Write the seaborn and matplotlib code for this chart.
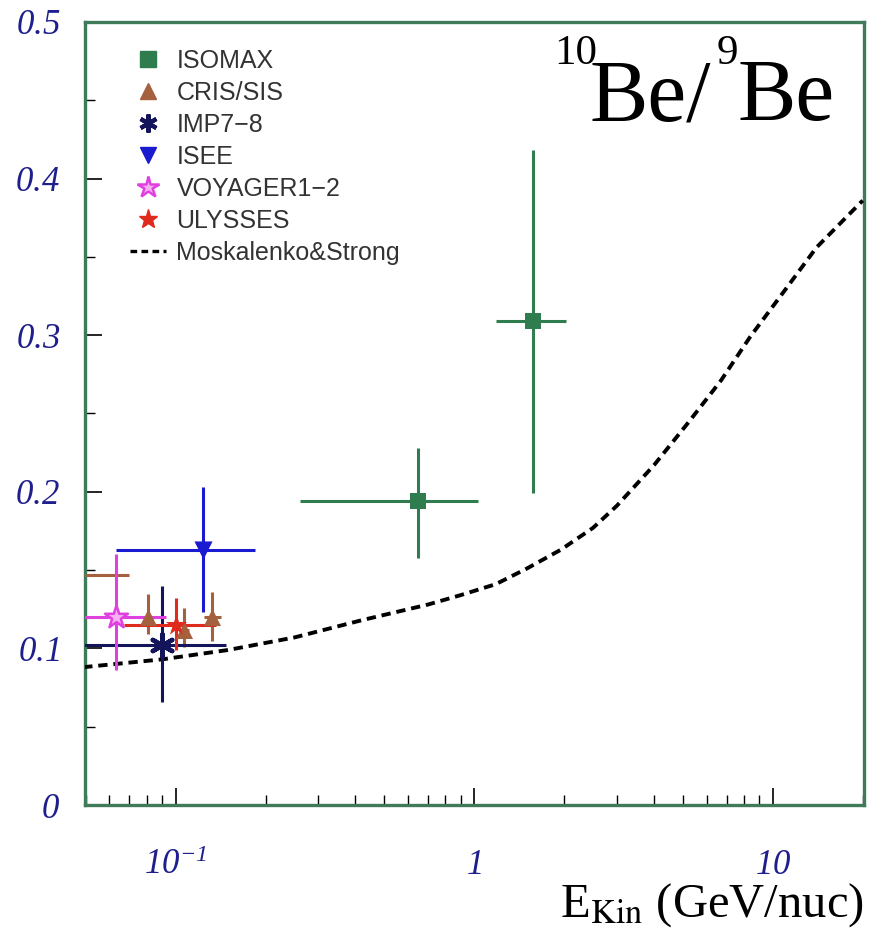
import numpy as np
import matplotlib
matplotlib.use("Agg")
import matplotlib.pyplot as plt
from matplotlib.lines import Line2D
from matplotlib.ticker import FixedLocator, FixedFormatter, LogLocator, MultipleLocator, NullFormatter
import seaborn as sns

# ---------------- data ----------------
# Moskalenko & Strong model curve
model_E = [0.049, 0.09, 0.15, 0.25, 0.42, 0.70, 0.90, 1.18, 1.5, 1.95, 2.5, 3.0, 4.0, 5.2, 6.7, 8.4, 11.0, 14.0, 20.0]
model_ratio = [0.088, 0.093, 0.099, 0.107, 0.118, 0.128, 0.134, 0.141, 0.151, 0.163, 0.177, 0.191, 0.217, 0.244, 0.271, 0.299, 0.329, 0.356, 0.386]

# ISOMAX
isomax_E = [0.65, 1.57]
isomax_R = [0.194, 0.309]
isomax_Elo = [0.26, 1.18]
isomax_Ehi = [1.03, 2.03]
isomax_Rlo = [0.158, 0.199]
isomax_Rhi = [0.228, 0.418]

# CRIS/SIS
cris_E = [0.045, 0.081, 0.107, 0.132]
cris_R = [0.147, 0.120, 0.112, 0.120]
cris_Elo = [0.040, 0.077, 0.103, 0.124]
cris_Ehi = [0.070, 0.086, 0.111, 0.142]
cris_Rlo = [0.140, 0.109, 0.101, 0.105]
cris_Rhi = [0.154, 0.135, 0.126, 0.136]

# IMP7-8
imp_E = [0.0898]
imp_R = [0.102]
imp_Elo = [0.045]
imp_Ehi = [0.148]
imp_Rlo = [0.066]
imp_Rhi = [0.140]

# ISEE
isee_E = [0.123]
isee_R = [0.163]
isee_Elo = [0.063]
isee_Ehi = [0.184]
isee_Rlo = [0.123]
isee_Rhi = [0.203]

# VOYAGER 1-2
voy_E = [0.063]
voy_R = [0.120]
voy_Elo = [0.045]
voy_Ehi = [0.093]
voy_Rlo = [0.086]
voy_Rhi = [0.160]

# ULYSSES
uly_E = [0.1006]
uly_R = [0.115]
uly_Elo = [0.067]
uly_Ehi = [0.136]
uly_Rlo = [0.099]
uly_Rhi = [0.132]

series_names = ["ISOMAX", "CRIS/SIS", "IMP7\u22128", "ISEE", "VOYAGER1\u22122", "ULYSSES"]
model_name = "Moskalenko&Strong"

x_ticks = [0.1, 1, 10]
x_ticklabels = [r"$10^{-1}$", r"$1$", r"$10$"]
y_ticks = [0, 0.1, 0.2, 0.3, 0.4, 0.5]
y_ticklabels = [r"$0$", r"$0.1$", r"$0.2$", r"$0.3$", r"$0.4$", r"$0.5$"]

# title pieces: (text, is_superscript, gap to the piece on its right in px)
title_parts = [("10", True, 0), ("Be/", False, -7), ("9", True, 5), ("Be", False, 0)]

# ---------------- style ----------------
sns.set_style("white")
plt.rcParams["font.family"] = ["Liberation Serif", "DejaVu Sans"]
# italic Times-like digits for the tick labels
plt.rcParams["mathtext.fontset"] = "custom"
plt.rcParams["mathtext.rm"] = "Liberation Serif:italic"
plt.rcParams["mathtext.it"] = "Liberation Serif:italic"
plt.rcParams["mathtext.bf"] = "Liberation Serif:bold"

frame_col = "#3f7b5b"
navy = "#1e1e8c"
W, H = 881, 938

fig = plt.figure(figsize=(W / 100, H / 100), dpi=100)
ax = fig.add_axes([85 / W, 1 - 805 / H, 779 / W, 783 / H])
ax.set_facecolor("white")

ax.set_xscale("log")
ax.set_xlim(0.0497, 20.2)
ax.set_ylim(0, 0.5)

# model curve
sns.lineplot(x=model_E, y=model_ratio, color="black", linewidth=2.8,
             linestyle=(0, (2.4, 1.5)), ax=ax, legend=False, zorder=3)

series = [
    (isomax_E, isomax_R, isomax_Elo, isomax_Ehi, isomax_Rlo, isomax_Rhi, "#2f7d4e", "s", 130, None, 0),
    (cris_E, cris_R, cris_Elo, cris_Ehi, cris_Rlo, cris_Rhi, "#a5603e", "^", 150, None, 0),
    (imp_E, imp_R, imp_Elo, imp_Ehi, imp_Rlo, imp_Rhi, "#14145a", (6, 2, 0), 260, None, 3.2),
    (isee_E, isee_R, isee_Elo, isee_Ehi, isee_Rlo, isee_Rhi, "#1a1ad0", "v", 170, None, 0),
    (voy_E, voy_R, voy_Elo, voy_Ehi, voy_Rlo, voy_Rhi, "#e040e0", "*", 300, "#f6b0f0", 1.8),
    (uly_E, uly_R, uly_Elo, uly_Ehi, uly_Rlo, uly_Rhi, "#e02a1e", "*", 260, None, 0),
]

for (E, R, Elo, Ehi, Rlo, Rhi, col, mk, s, fc, lw) in series:
    E = np.array(E); R = np.array(R)
    xerr = [E - np.array(Elo), np.array(Ehi) - E]
    yerr = [R - np.array(Rlo), np.array(Rhi) - R]
    ax.errorbar(E, R, xerr=xerr, yerr=yerr, fmt="none", ecolor=col,
                elinewidth=2.2, capsize=0, zorder=4)
    if isinstance(mk, tuple):
        sns.scatterplot(x=E, y=R, marker=mk, s=s, color=col, linewidth=lw,
                        ax=ax, zorder=5, legend=False)
    elif fc is not None:
        sns.scatterplot(x=E, y=R, marker=mk, s=s, facecolor=fc, edgecolor=col,
                        linewidth=lw, ax=ax, zorder=5, legend=False)
    else:
        sns.scatterplot(x=E, y=R, marker=mk, s=s, color=col, edgecolor=col,
                        linewidth=0, ax=ax, zorder=5, legend=False)

# ---------------- axes ----------------
for sp in ax.spines.values():
    sp.set_color(frame_col)
    sp.set_linewidth(2.4)
    sp.set_visible(True)

ax.xaxis.set_major_locator(FixedLocator(x_ticks))
ax.xaxis.set_major_formatter(FixedFormatter(x_ticklabels))
ax.xaxis.set_minor_locator(LogLocator(base=10, subs=np.arange(2, 10)))
ax.xaxis.set_minor_formatter(NullFormatter())
ax.yaxis.set_major_locator(FixedLocator(y_ticks))
ax.yaxis.set_major_formatter(FixedFormatter(y_ticklabels))
ax.yaxis.set_minor_locator(MultipleLocator(0.05))

ax.tick_params(axis="both", which="both", direction="in", color="black",
               bottom=True, left=True, top=False, right=False)
ax.tick_params(axis="both", which="major", length=12, width=1.2)
ax.tick_params(axis="both", which="minor", length=7, width=1.0)
ax.tick_params(axis="y", which="major", pad=18, labelsize=25, labelcolor=navy)
ax.tick_params(axis="x", which="major", pad=50, labelsize=25, labelcolor=navy)
for lab in ax.get_xticklabels():
    lab.set_verticalalignment("baseline")

# x label at bottom right
ax.text(1.0, -0.142, r"E$_{\mathrm{Kin}}$ (GeV/nuc)", transform=ax.transAxes,
        ha="right", va="baseline", fontsize=35, color="black", math_fontfamily="stix")

# legend
handles = [
    Line2D([], [], linestyle="none", marker="s", markersize=11, color="#2f7d4e"),
    Line2D([], [], linestyle="none", marker="^", markersize=12, color="#a5603e"),
    Line2D([], [], linestyle="none", marker=(6, 2, 0), markersize=13, markeredgewidth=3, color="#14145a"),
    Line2D([], [], linestyle="none", marker="v", markersize=12, color="#1a1ad0"),
    Line2D([], [], linestyle="none", marker="*", markersize=16, markerfacecolor="#f6b0f0",
           markeredgecolor="#e040e0", markeredgewidth=1.8),
    Line2D([], [], linestyle="none", marker="*", markersize=14, color="#e02a1e"),
    Line2D([], [], linestyle=(0, (2.0, 1.3)), linewidth=2.4, color="black"),
]
leg = ax.legend(handles, series_names + [model_name], loc="upper left",
                bbox_to_anchor=(0.058, 0.966), frameon=False, borderpad=0,
                borderaxespad=0, handlelength=1.45, handletextpad=0.4,
                labelspacing=0.32, prop={"family": "Liberation Sans", "size": 18})
for t in leg.get_texts():
    t.set_color("#333333")

# big title "10Be/9Be", laid out piece by piece from the right
fig.canvas.draw()
renderer = fig.canvas.get_renderer()
x_px = 835.0
for txt, sup, gap in reversed(title_parts):
    if sup:
        t = fig.text(x_px / W, (H - 64) / H, txt, ha="right", va="baseline",
                     fontsize=31, color="black", family="Liberation Serif")
    else:
        t = fig.text(x_px / W, (H - 120) / H, txt, ha="right", va="baseline",
                     fontsize=63, color="black", family="Liberation Serif")
    bb = t.get_window_extent(renderer)
    x_px = bb.x0 - gap

fig.savefig("out.png", dpi=100, facecolor="white")
